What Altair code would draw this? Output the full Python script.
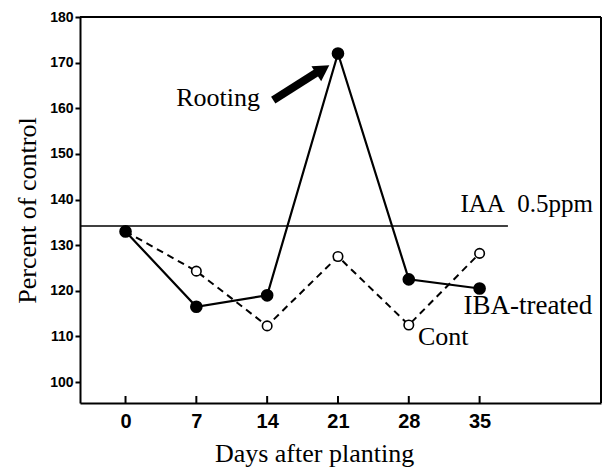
import altair as alt
import pandas as pd

days = [0, 7, 14, 21, 28, 35]
iba = [133.0, 116.5, 119.0, 172.0, 122.5, 120.5]
cont = [133.0, 124.3, 112.3, 127.5, 112.5, 128.2]
iaa_level = 134.2
y_ticks = [100, 110, 120, 130, 140, 150, 160, 170, 180]

W, H = 521, 386
xs = alt.Scale(domain=[-4.5, 47], nice=False, zero=False)
ys = alt.Scale(domain=[95.4, 180], nice=False, zero=False)

x_axis = alt.Axis(values=days, tickSize=0, labelPadding=8, labelFontSize=20,
                  labelFontWeight="bold", labelFont="Liberation Sans", grid=False,
                  domainWidth=2, domainColor="black", labelColor="black",
                  titleFont="Liberation Serif", titleFontSize=26, titleFontWeight="normal",
                  titlePadding=9, titleColor="black", titleX=234, titleAnchor="middle")
y_axis = alt.Axis(values=y_ticks, tickSize=5, tickWidth=2, tickColor="black",
                  labelFontSize=14, labelFont="Liberation Sans", labelFontWeight="bold",
                  grid=False, domainWidth=2, domainColor="black", labelColor="black",
                  labelPadding=2,
                  titleFont="Liberation Serif", titleFontSize=26, titleFontWeight="normal",
                  titlePadding=9, titleColor="black")


def X(field="day"):
    return alt.X(f"{field}:Q", scale=xs, axis=x_axis, title="Days after planting")


def Y(field="v"):
    return alt.Y(f"{field}:Q", scale=ys, axis=y_axis, title="Percent of control")


df_iba = pd.DataFrame({"day": days, "v": iba})
df_cont = pd.DataFrame({"day": days, "v": cont})

xticks = alt.Chart(pd.DataFrame({"day": days})).mark_rule(color="black", strokeWidth=2).encode(
    x=X(), y=alt.value(H), y2=alt.value(H - 7))

frame_top = alt.Chart(pd.DataFrame({"day": [0]})).mark_rule(color="black", strokeWidth=2).encode(
    x=alt.value(0), x2=alt.value(W), y=alt.value(0))
frame_right = alt.Chart(pd.DataFrame({"day": [0]})).mark_rule(color="black", strokeWidth=2).encode(
    x=alt.value(W), y=alt.value(0), y2=alt.value(H))

iaa = alt.Chart(pd.DataFrame({"day": [-4.5], "x2": [37.8], "v": [iaa_level]})).mark_rule(
    color="black", strokeWidth=1.5).encode(x=X(), x2="x2:Q", y=Y())

cont_line = alt.Chart(df_cont).mark_line(color="black", strokeWidth=2, strokeDash=[7, 5]).encode(x=X(), y=Y())
iba_line = alt.Chart(df_iba).mark_line(color="black", strokeWidth=2.2).encode(x=X(), y=Y())
cont_pts = alt.Chart(df_cont).mark_point(shape="circle", filled=True, fill="white", stroke="black",
                                         strokeWidth=1.6, size=90, opacity=1).encode(x=X(), y=Y())
iba_pts = alt.Chart(df_iba).mark_point(shape="circle", filled=True, color="black", size=160,
                                       opacity=1).encode(x=X(), y=Y())

# arrow
arrow_df = pd.DataFrame({"day": [14.6, 19.0], "v": [161.8, 168.0]})
arrow_shaft = alt.Chart(arrow_df).mark_line(color="black", strokeWidth=8).encode(x=X(), y=Y())
arrow_head = alt.Chart(pd.DataFrame({"day": [19.5], "v": [168.5]})).mark_point(
    shape="triangle-up", filled=True, color="black", size=320, angle=57, opacity=1).encode(x=X(), y=Y())

labels = pd.DataFrame({
    "day": [13.3, 33.1, 33.4, 28.9],
    "v": [162.3, 139.0, 116.7, 109.9],
    "t": ["Rooting", "IAA\u00a0\u00a00.5ppm", "IBA-treated", "Cont"],
    "a": ["right", "left", "left", "left"],
    "s": [26, 25, 27, 26],
})
texts = []
for _, r in labels.iterrows():
    texts.append(alt.Chart(pd.DataFrame([r])).mark_text(
        font="Liberation Serif", fontSize=int(r["s"]), color="black", align=r["a"],
        baseline="middle").encode(x=X(), y=Y(), text="t:N"))

chart = alt.layer(xticks, iaa, cont_line, iba_line, cont_pts, iba_pts, arrow_shaft, arrow_head,
                  *texts, frame_top, frame_right).properties(
    width=W, height=H,
    background="white",
    autosize=alt.AutoSizeParams(type="none"),
    padding={"left": 80, "top": 17, "right": 2, "bottom": 66},
).configure_view(stroke=None)

chart.save("out.html", embed_options={"renderer": "svg", "actions": False})
